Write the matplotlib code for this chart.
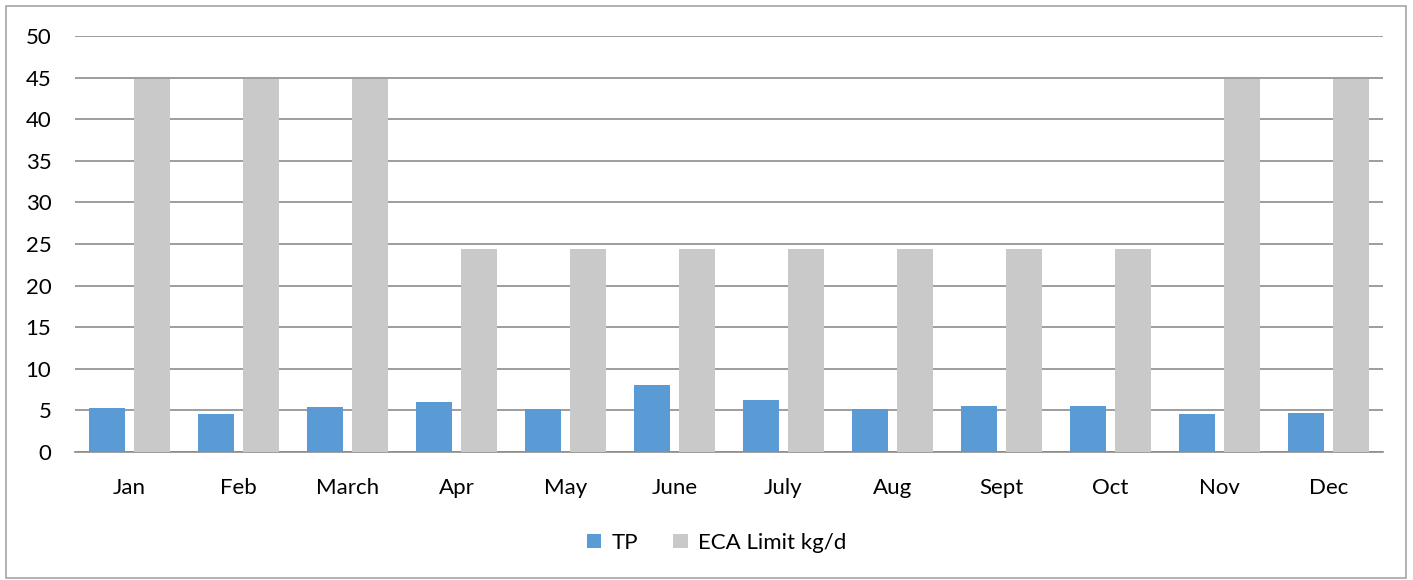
import numpy as np
import matplotlib
matplotlib.use("Agg")
import matplotlib.pyplot as plt
from matplotlib.patches import Rectangle

# monthly values
months = ["Jan", "Feb", "March", "Apr", "May", "June", "July", "Aug", "Sept", "Oct", "Nov", "Dec"]
tp = [5.24, 4.52, 5.44, 5.96, 5.16, 8.03, 6.24, 5.16, 5.56, 5.56, 4.56, 4.68]
eca_limit = [44.8, 44.8, 44.8, 24.4, 24.4, 24.4, 24.4, 24.4, 24.4, 24.4, 44.8, 44.8]

plt.rcParams['font.family'] = ['Lato', 'DejaVu Sans']

fig = plt.figure(figsize=(14.13, 5.8), dpi=100)
ax = fig.add_axes([75/1413, 128/580, 1308/1413, 416/580])

x = np.arange(len(months))
w = 0.33
ax.bar(x - 0.205, tp, w, color='#5B9BD5', label='TP', zorder=3)
ax.bar(x + 0.205, eca_limit, w, color='#C9C9C9', label='ECA Limit kg/d', zorder=3)

ax.set_xlim(-0.5, len(months) - 0.5)
ax.set_ylim(0, 50)
ax.set_yticks(np.arange(0, 51, 5))
ax.set_xticks(x)
ax.set_xticklabels(months)
ax.yaxis.grid(True, color='#8c8c8c', linewidth=1.2, zorder=0)
ax.set_axisbelow(True)
for s in ['top', 'right', 'left']:
    ax.spines[s].set_visible(False)
ax.spines['bottom'].set_color('#8c8c8c')
ax.spines['bottom'].set_linewidth(1.2)
ax.tick_params(axis='both', length=0, labelsize=16, colors='#000000')
ax.tick_params(axis='y', pad=17)
ax.tick_params(axis='x', pad=19)

fig.legend(loc='center', bbox_to_anchor=(0.507, 0.064), ncol=2, frameon=False,
           fontsize=16, handlelength=0.65, handleheight=0.65, handletextpad=0.45,
           columnspacing=1.6)

# chart border
fig.patches.append(Rectangle((6/1413, 2/580), 1400/1413, 572/580, transform=fig.transFigure,
                             fill=False, edgecolor='#a6a6a6', linewidth=1.2))

fig.savefig("out.png", dpi=100)
